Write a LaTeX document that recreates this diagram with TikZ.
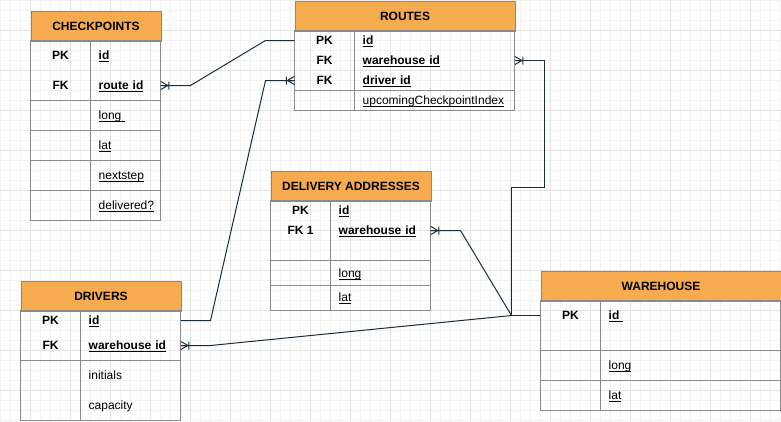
\documentclass[tikz,border=0pt]{standalone}
\usepackage{fontspec}
\setmainfont{Liberation Sans}
\definecolor{headorange}{HTML}{F5AB4E}
\definecolor{tblgrey}{HTML}{8A8A8A}
\definecolor{linenavy}{HTML}{182E3E}
\definecolor{gridminor}{HTML}{F2F2F2}
\definecolor{gridmajor}{HTML}{E3E3E3}
\newcommand\erfont{\fontsize{12}{14}\selectfont}
\newcommand\erul[1]{\setbox0\hbox{#1}\rlap{\rule[-2pt]{\wd0}{0.8pt}}\box0}

\begin{document}
\begin{tikzpicture}[x=1pt,y=-1pt,
  frame/.style={draw=tblgrey,line width=1pt},
  head/.style={frame,fill=headorange,font=\erfont\bfseries,anchor=north west,
    minimum width=#1,minimum height=30pt,inner sep=0pt,text height=8.6pt,text depth=0pt},
  key/.style={font=\erfont\bfseries,minimum width=#1,inner sep=0pt,text height=8.6pt,text depth=0pt},
  fld/.style={font=\erfont,anchor=west,inner xsep=8pt,inner ysep=0pt,text width=#1,align=left,
    text height=8.6pt,text depth=0pt},
  conn/.style={draw=linenavy,line width=1pt},
  minorgrid/.style={draw=gridminor,line width=1pt},
  majorgrid/.style={draw=gridmajor,line width=1pt},
  ermany/.pic={\draw[conn] (0,-4) -- (7,0) -- (0,4) (0,0) -- (8,0) (8,-4) -- (8,4);}]

  \useasboundingbox (-0.5,-0.5) rectangle (780.5,420.5);

  % background grid
  \foreach \gx in {0,10,...,780} \draw[minorgrid] (\gx,-0.5) -- (\gx,420.5);
  \foreach \gy in {0,10,...,420} \draw[minorgrid] (-0.5,\gy) -- (780.5,\gy);
  \foreach \gx in {30,70,...,750} \draw[majorgrid] (\gx,-0.5) -- (\gx,420.5);
  \foreach \gy in {30,70,...,390} \draw[majorgrid] (-0.5,\gy) -- (780.5,\gy);

  % checkpoints
  \node[head=130pt] (cp) at (30,10) {CHECKPOINTS};
  \draw[frame] (30,40) rectangle (160,220) (90,40) -- (90,220);
  \foreach \ry in {100,130,160,190} \draw[frame] (30,\ry) -- (160,\ry);
  \node[key=60pt] (cp-pk) at (60,55) {PK};
  \node[key=60pt] (cp-fk) at (60,85) {FK};
  \node[fld=54pt] (cp-id) at (90,55) {\erul{\textbf{id}}};
  \node[fld=54pt] (cp-route) at (90,85) {\erul{\textbf{route id}}};
  \node[fld=54pt] (cp-long) at (90,115) {\erul{long\ }};
  \node[fld=54pt] (cp-lat) at (90,145) {\erul{lat}};
  \node[fld=54pt] (cp-next) at (90,175) {\erul{nextstep}};
  \node[fld=54pt] (cp-deliv) at (90,205) {\erul{delivered?}};

  % routes
  \node[head=220pt] (rt) at (294,0) {ROUTES};
  \draw[frame] (294,30) rectangle (514,110) (354,30) -- (354,110) (294,90) -- (514,90);
  \node[key=60pt] (rt-pk) at (324,40) {PK};
  \node[key=60pt] (rt-fkw) at (324,60) {FK};
  \node[key=60pt] (rt-drv) at (324,80) {FK};
  \node[fld=144pt] (rt-id) at (354,40) {\erul{\textbf{id}}};
  \node[fld=144pt] (rt-wh) at (354,60) {\erul{\textbf{warehouse id}}};
  \node[fld=144pt] (rt-driver) at (354,80) {\erul{\textbf{driver id}}};
  \node[fld=144pt] (rt-next) at (354,100) {\erul{upcomingCheckpointIndex}};

  % delivery addresses
  \node[head=160pt] (da) at (270,170) {DELIVERY ADDRESSES};
  \draw[frame] (270,200) rectangle (430,310) (330,200) -- (330,310);
  \foreach \ry in {260,285} \draw[frame] (270,\ry) -- (430,\ry);
  \node[key=60pt] (da-pk) at (300,210) {PK};
  \node[key=60pt] (da-fk) at (300,230) {FK 1};
  \node[fld=84pt] (da-id) at (330,210) {\erul{\textbf{id}}};
  \node[fld=84pt] (da-wh) at (330,230) {\erul{\textbf{warehouse id}}};
  \node[fld=84pt] (da-long) at (330,273) {\erul{long}};
  \node[fld=84pt] (da-lat) at (330,297) {\erul{lat}};

  % drivers
  \node[head=160pt] (dr) at (20,280) {DRIVERS};
  \draw[frame] (20,310) rectangle (180,420) (80,310) -- (80,420) (20,360) -- (180,360);
  \node[key=60pt] (dr-pk) at (50,320) {PK};
  \node[key=60pt] (dr-fk) at (50,345) {FK};
  \node[fld=84pt] (dr-id) at (80,320) {\erul{\textbf{id}}};
  \node[fld=84pt] (dr-wh) at (80,345) {\erul{\textbf{warehouse id}}};
  \node[fld=84pt] (dr-init) at (80,375) {initials};
  \node[fld=84pt] (dr-cap) at (80,405) {capacity};

  % warehouse
  \node[head=240pt] (wh) at (540,270) {WAREHOUSE};
  \draw[frame] (540,300) rectangle (780,410) (600,300) -- (600,410);
  \foreach \ry in {350,380} \draw[frame] (540,\ry) -- (780,\ry);
  \node[key=60pt] (wh-pk) at (570,315) {PK};
  \node[fld=164pt] (wh-id) at (600,315) {\erul{\textbf{id\ }}};
  \node[fld=164pt] (wh-long) at (600,365) {\erul{long}};
  \node[fld=164pt] (wh-lat) at (600,395) {\erul{lat}};

  % relations
  \coordinate (hub) at (511,315);
  \draw[conn] (cp-route.east) -- (190,85) -- (265,40) -- (rt-pk.west);
  \draw[conn] (dr-id.east) -- (210,320) -- (265,80) -- (rt-drv.west);
  \draw[conn] (rt-wh.east) -- (544,60) -- (544,187) -- (511,187) -- (hub) -- (wh-pk.west);
  \draw[conn] (da-wh.east) -- (460,230) -- (hub);
  \draw[conn] (dr-wh.east) -- (210,345) -- (hub);
  \pic at (cp-route.east) {ermany};
  \pic[xscale=-1] at (rt-drv.west) {ermany};
  \pic at (rt-wh.east) {ermany};
  \pic at (da-wh.east) {ermany};
  \pic at (dr-wh.east) {ermany};
\end{tikzpicture}
\end{document}
